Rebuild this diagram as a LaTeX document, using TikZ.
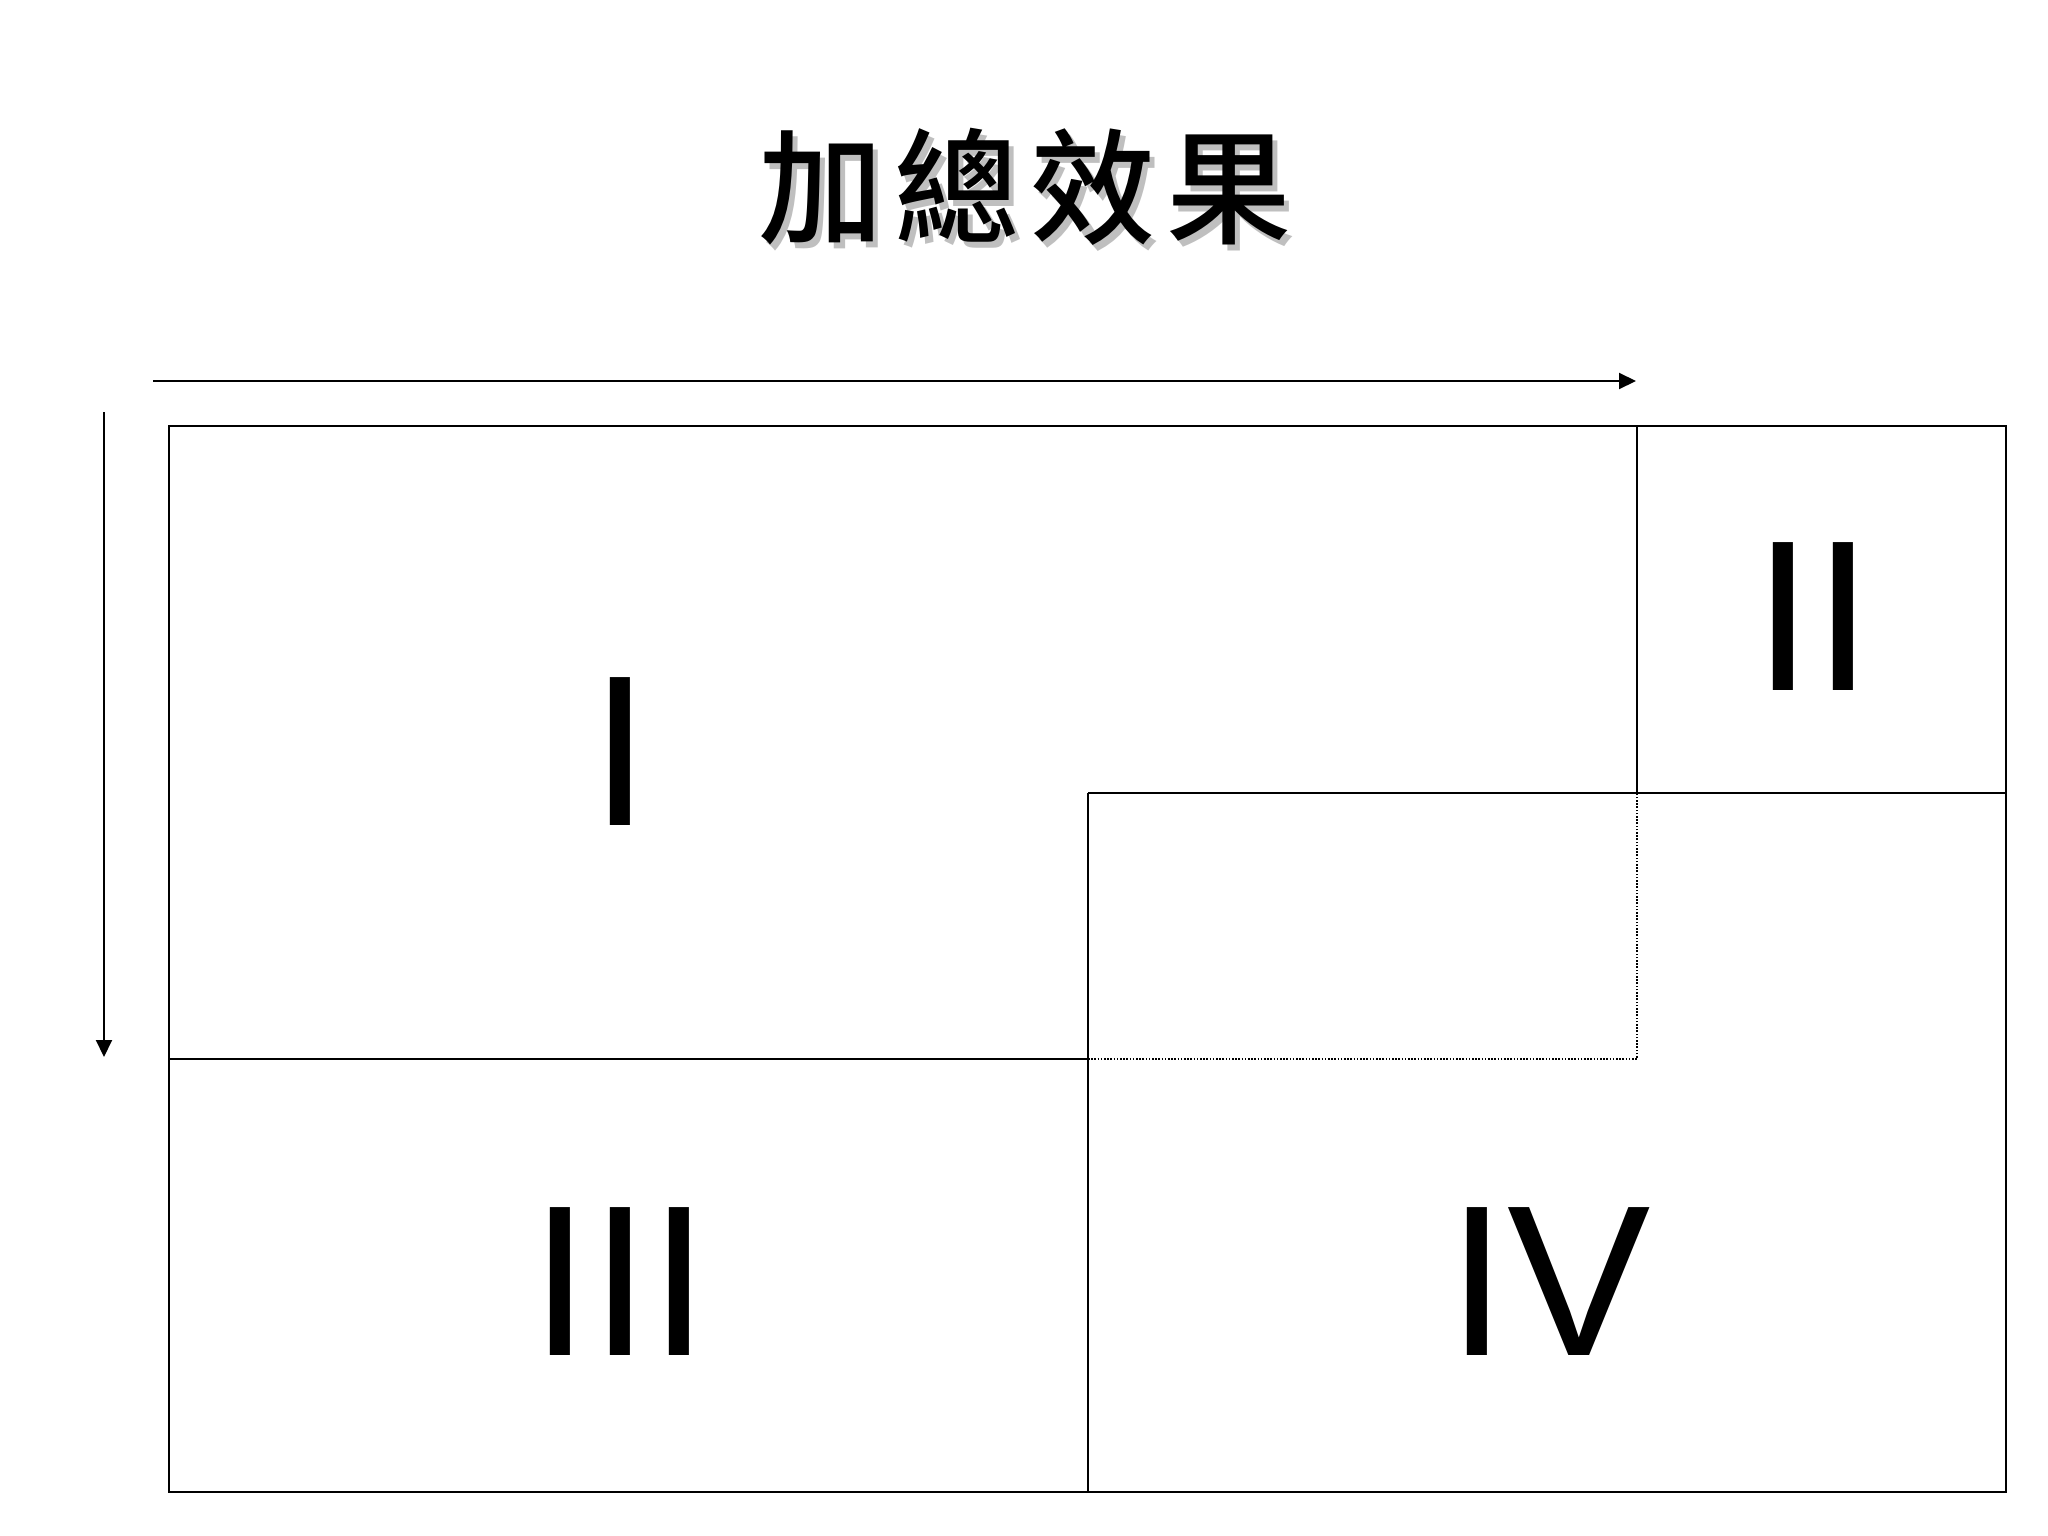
\documentclass[tikz,border=0pt]{standalone}
\usepackage{fontspec}
\setmainfont{Liberation Sans}
\newfontfamily\cjk{Noto Sans CJK TC}[UprightFont=* Medium,LetterSpace=9]
\usetikzlibrary{arrows.meta}

\begin{document}
\begin{tikzpicture}[x=1pt,y=-1pt,
  box/.style={line width=2.8pt},
  guide/.style={line width=2pt,-{Triangle[length=17pt,width=16pt]}},
  overlap/.style={line width=1.5pt,dash pattern=on 1.6pt off 1.6pt},
  heading/.style={inner sep=0pt,font=\cjk\fontsize{125}{125}\selectfont},
  numeral/.style={inner sep=0pt,font=\fontsize{215}{215}\selectfont}]
\useasboundingbox (0,0) rectangle (2048,1536);
% title with its grey shadow
\node[heading,text=black!25] (shadow) at (1030,193) {加總效果};
\node[heading] (title) at (1025,187) {加總效果};
% corners of the field and its dividers
\coordinate (nw) at (169,426);
\coordinate (se) at (2006,1492);
\coordinate (ta) at (1637,426);
\coordinate (tb) at (1637,793);
\coordinate (mc) at (1088,793);
\coordinate (md) at (2006,793);
\coordinate (le) at (169,1059);
\coordinate (lf) at (1088,1059);
\coordinate (bg) at (1088,1492);
\coordinate (h0) at (153,381);
\coordinate (h1) at (1636,381);
\coordinate (v0) at (104,412);
\coordinate (v1) at (104,1057);
\draw[guide] (h0) -- (h1);
\draw[guide] (v0) -- (v1);
\draw[box] (nw) rectangle (se);
\draw[box] (ta) -- (tb);
\draw[box] (mc) -- (md);
\draw[box] (le) -- (lf);
\draw[box] (mc) -- (bg);
\draw[overlap] (lf) -- (lf -| tb) -- (tb);
\foreach \lbl/\x/\y in {I/620/752,II/1813/617,III/620/1282,IV/1549/1282}
  {\node[numeral] (\lbl) at (\x,\y) {\lbl};}
\end{tikzpicture}
\end{document}
